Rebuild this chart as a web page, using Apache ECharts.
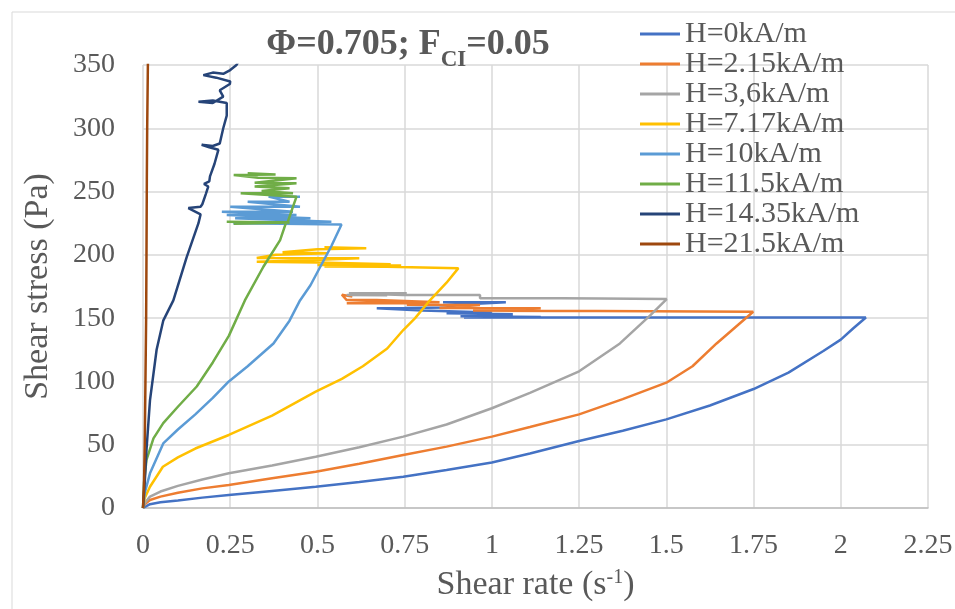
<!DOCTYPE html>
<html>
<head>
<meta charset="utf-8">
<script src="https://cdn.jsdelivr.net/npm/echarts@6/dist/echarts.min.js"></script>
<style>
html,body{margin:0;padding:0;background:#fff;}
#chart{width:955px;height:609px;}
</style>
</head>
<body>
<div id="chart"></div>
<script>
// ---- data (shear rate s^-1, shear stress Pa) ----
const seriesNames = ['H=0kA/m','H=2.15kA/m','H=3,6kA/m','H=7.17kA/m','H=10kA/m','H=11.5kA/m','H=14.35kA/m','H=21.5kA/m'];
const xTicks = [0,0.25,0.5,0.75,1,1.25,1.5,1.75,2,2.25];
const yTicks = [0,50,100,150,200,250,300,350];

const h0 = [[0,0],[0.005,1.5],[0.02,3],[0.05,4.5],[0.1,6],[0.17,8.2],[0.246,10.3],[0.37,13.5],[0.495,16.8],[0.62,20.5],[0.746,24.7],[0.87,30],[1.0,36],[1.109,43],[1.25,53],[1.375,61],[1.5,70],[1.625,81],[1.75,94],[1.85,107],[1.95,124],[2.0,133],[2.036,142],[2.072,150.5],[1.5,150.5],[0.92,150.5],[1.14,151],[0.91,151.5],[1.06,153],[0.87,153.8],[1.0,154.5],[0.8,156],[0.67,157.8],[0.75,158],[0.87,158.5],[0.9,160.5],[1.04,162.5],[0.86,162.5],[0.95,161.5]];
const h215 = [[0,0],[0.005,3],[0.02,6.3],[0.05,9],[0.1,12],[0.17,15.5],[0.246,18.2],[0.37,23.5],[0.495,28.7],[0.62,35],[0.746,41.9],[0.87,48.5],[1.0,56.4],[1.109,64],[1.25,74],[1.375,86],[1.5,99],[1.575,112],[1.644,130],[1.711,146],[1.749,155],[1.3,155.6],[0.95,155.8],[1.2,155.6],[0.946,156],[1.14,157.8],[0.85,158],[0.966,160.4],[0.756,160.5],[0.82,161.7],[0.584,161.7],[0.66,162.5],[0.85,162.5],[0.67,164.3],[0.584,164.3],[0.57,168.5],[0.6,167]];
const h36 = [[0,0],[0.005,4],[0.02,9],[0.05,13],[0.1,17.5],[0.17,22.5],[0.246,27.4],[0.37,33.5],[0.495,40.5],[0.62,48],[0.746,56.4],[0.87,66],[1.0,78.8],[1.109,91],[1.25,108],[1.367,130],[1.453,152],[1.501,165.1],[1.31,165.5],[1.2,165.7],[0.966,165.7],[0.966,168.3],[0.745,168.3],[0.59,169.6],[0.756,169.6],[0.64,169.6],[0.584,168.3],[0.7,168]];
const h717 = [[0,0],[0.005,8],[0.02,16.8],[0.057,32.6],[0.1,40],[0.15,47],[0.246,57.7],[0.37,73],[0.495,91.9],[0.57,102],[0.63,112],[0.7,126],[0.746,140.6],[0.78,150],[0.823,164.3],[0.87,178],[0.904,189.5],[0.7,190.6],[0.52,190.8],[0.74,191.5],[0.5,192],[0.71,192.5],[0.5,194],[0.326,194.6],[0.45,195.5],[0.62,197.3],[0.326,197.5],[0.38,200],[0.53,201.2],[0.4,202],[0.5,204.5],[0.64,205.2],[0.52,206]];
const h10 = [[0,0],[0.005,12],[0.02,27.4],[0.058,51],[0.1,62],[0.15,74],[0.2,87],[0.246,100],[0.3,112],[0.374,130],[0.42,148],[0.45,164],[0.48,176],[0.507,190],[0.54,207],[0.569,224],[0.4,224.6],[0.259,225],[0.54,226.2],[0.264,228.9],[0.48,229],[0.24,231.5],[0.44,231.5],[0.226,234.1],[0.43,234.1],[0.25,238],[0.45,238],[0.3,242],[0.42,242],[0.36,246],[0.45,246]];
const h115 = [[0,0],[0.003,20],[0.01,38],[0.03,55],[0.058,67],[0.1,80],[0.154,96],[0.2,115],[0.246,136],[0.292,164],[0.345,190.6],[0.393,211.7],[0.41,225.5],[0.24,226.2],[0.42,225.5],[0.26,224.5],[0.415,226],[0.426,235],[0.44,246],[0.28,248.6],[0.43,248.6],[0.34,250.5],[0.42,252.6],[0.32,254],[0.44,256.5],[0.32,257],[0.44,260.5],[0.33,261],[0.26,263],[0.38,263.5],[0.3,264.5]];
const h1435 = [[0,0],[0.005,20],[0.01,45.8],[0.02,85],[0.039,125],[0.058,148],[0.087,164],[0.125,198],[0.159,225],[0.165,232],[0.13,237],[0.165,238],[0.17,240],[0.18,248],[0.187,254],[0.175,256],[0.19,258],[0.192,262],[0.205,272],[0.216,283],[0.19,285],[0.168,287],[0.2,286],[0.22,288],[0.23,300],[0.24,310],[0.24,320],[0.2,322],[0.159,321],[0.2,320],[0.23,325],[0.22,330],[0.249,335],[0.25,337],[0.21,340],[0.173,342],[0.2,344],[0.23,343],[0.25,346],[0.268,350],[0.28,356]];
const h215b = [[0,0],[0.003,20],[0.005,50],[0.007,100],[0.009,150],[0.01,200],[0.011,260],[0.012,300],[0.014,350],[0.015,360]];

const seriesData = [h0,h215,h36,h717,h10,h115,h1435,h215b];
const colors = ['#4472C4','#ED7D31','#A5A5A5','#FFC000','#5B9BD5','#70AD47','#264478','#9E480E'];

const FONT = '"Liberation Serif", "Times New Roman", serif';
const chart = echarts.init(document.getElementById('chart'), null, {renderer:'canvas'});
chart.setOption({
  animation:false,
  backgroundColor:'#fff',
  color: colors,
  graphic:[{type:'rect', shape:{x:12,y:12,width:960,height:620}, style:{fill:'none',stroke:'#d9d9d9',lineWidth:1}, silent:true}],
  title:{
    text:'{a|Φ=0.705; F}{s|CI}{a|=0.05}',
    left:403, top:18, textAlign:'center',
    textStyle:{rich:{
      a:{fontFamily:FONT,fontSize:36,fontWeight:'bold',color:'#595959',lineHeight:40,verticalAlign:'bottom'},
      s:{fontFamily:FONT,fontSize:23,fontWeight:'bold',color:'#595959',lineHeight:23,verticalAlign:'bottom',padding:[0,0,-9,0]}
    }}
  },
  legend:{
    orient:'vertical', left:635, top:14,
    itemWidth:40, itemHeight:3, itemGap:0, icon:'rect',
    data: seriesNames,
    textStyle:{fontFamily:FONT,fontSize:30,color:'#595959',lineHeight:30}
  },
  grid:{left:143,right:27,top:65,bottom:101,containLabel:false,outerBoundsMode:'none'},
  xAxis:{
    type:'value', min:0, max:2.25, interval:0.25,
    name:'{a|Shear rate (s}{s|-1}{a|)}', nameLocation:'middle', nameGap:58,
    nameTextStyle:{rich:{
      a:{fontFamily:FONT,fontSize:34,color:'#595959',verticalAlign:'bottom',lineHeight:36},
      s:{fontFamily:FONT,fontSize:20,color:'#595959',verticalAlign:'bottom',lineHeight:20,padding:[0,0,14,0]}
    }},
    axisLine:{show:true,lineStyle:{color:'#bfbfbf',width:1.5}},
    axisTick:{show:false},
    axisLabel:{fontFamily:FONT,fontSize:28,color:'#595959',margin:24,formatter:v=>String(v)},
    splitLine:{show:true,lineStyle:{color:'#d9d9d9',width:1.5}}
  },
  yAxis:{
    type:'value', min:0, max:350, interval:50,
    name:'Shear stress (Pa)', nameLocation:'middle', nameGap:88,
    nameTextStyle:{fontFamily:FONT,fontSize:34,color:'#595959'},
    axisLine:{show:false},
    axisTick:{show:false},
    axisLabel:{fontFamily:FONT,fontSize:28,color:'#595959',margin:28},
    splitLine:{show:true,lineStyle:{color:'#d9d9d9',width:1.5}}
  },
  series: seriesNames.map((n,i)=>({
    name:n, type:'line', data:seriesData[i], symbol:'none', smooth:false,
    lineStyle:{width:2.5,color:colors[i]}, itemStyle:{color:colors[i]}, clip:true
  }))
});
</script>
</body>
</html>
